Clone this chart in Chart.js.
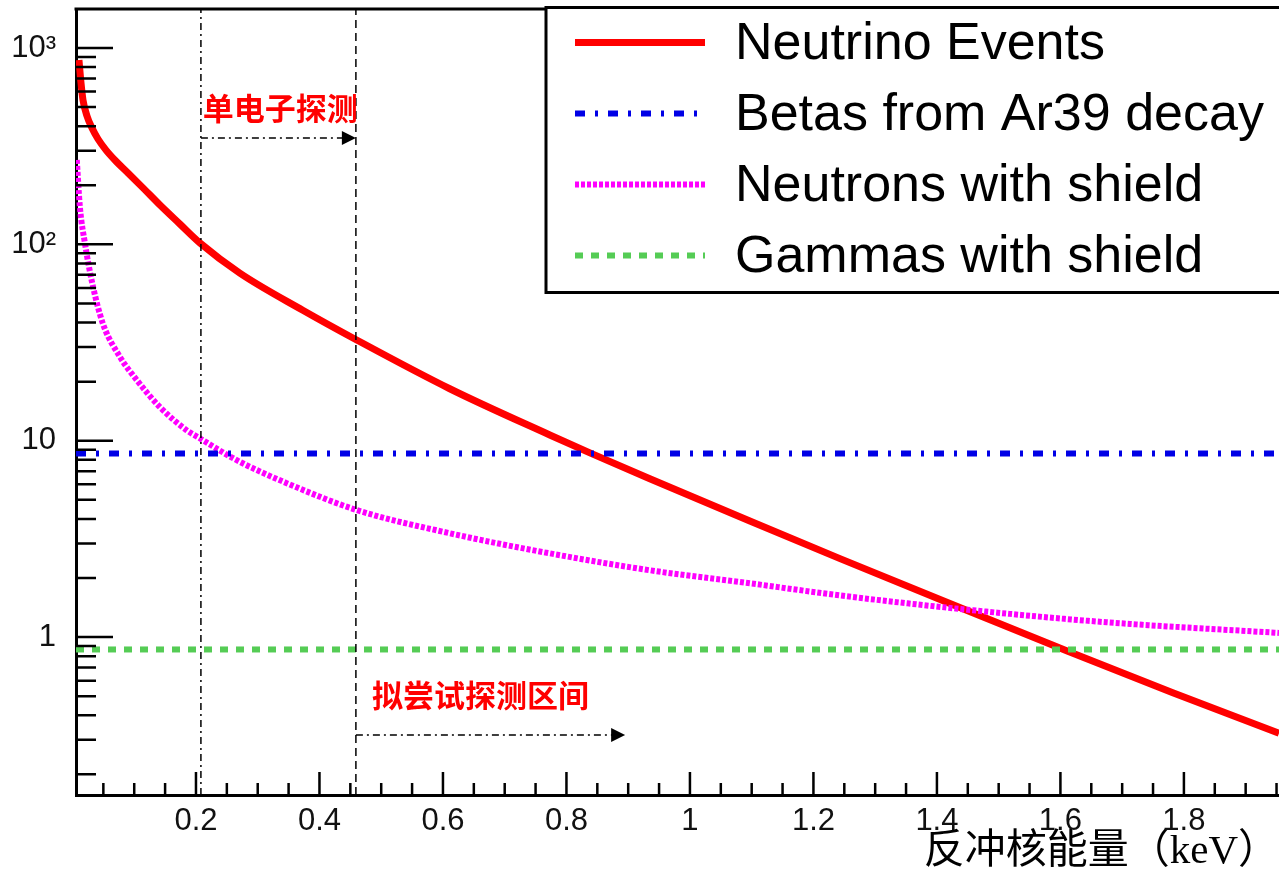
<!DOCTYPE html>
<html>
<head>
<meta charset="utf-8">
<title>Recoil spectrum</title>
<script src="https://cdn.jsdelivr.net/npm/chart.js"></script>
<style>
  html, body { margin: 0; padding: 0; background: #fff; }
  canvas { display: block; }
</style>
</head>
<body>
<canvas id="myChart" width="1279" height="877"></canvas>
<script>
// axis ranges (keV on x, events on a log y axis)
var xMin = 0.0057, xMax = 1.954;
var yMin = 0.157, yMax = 1580;

// tick values and their labels
var xTicks = [0.2, 0.4, 0.6, 0.8, 1.0, 1.2, 1.4, 1.6, 1.8];
var xLabels = ['0.2', '0.4', '0.6', '0.8', '1', '1.2', '1.4', '1.6', '1.8'];
var yTicks = [1, 10, 100, 1000];
var yLabels = ['1', '10', '10\u00b2', '10\u00b3'];
var xTitle = '反冲核能量（keV）';

// neutrino events
var neutrinoX = [0.0105, 0.0138, 0.017, 0.0235, 0.0316, 0.0413, 0.0543, 0.0705, 0.0899, 0.1142, 0.1417, 0.1741, 0.2065, 0.271, 0.373, 0.461, 0.611, 0.773, 0.838, 0.935, 1.097, 1.243, 1.426, 1.611, 1.782, 1.954];
var neutrinoY = [869, 664, 544, 451, 391, 344, 302, 265, 231, 194, 158.6, 126.8, 101.6, 71.4, 46.2, 32.5, 18.4, 10.7, 8.67, 6.40, 3.90, 2.51, 1.46, 0.85, 0.521, 0.324];

// neutrons with shield
var neutronX = [0.007, 0.012, 0.020, 0.032, 0.049, 0.077, 0.104, 0.142, 0.185, 0.206, 0.266, 0.347, 0.461, 0.611, 0.773, 0.935, 1.097, 1.243, 1.458, 1.675, 1.954];
var neutronY = [269, 155, 102, 63.5, 39.7, 26.7, 20.4, 14.8, 11.3, 10.3, 7.96, 6.08, 4.43, 3.38, 2.67, 2.19, 1.88, 1.63, 1.37, 1.19, 1.05];

// flat backgrounds
var flatX = [xMin, xMax];
var betaY = [8.6, 8.6];
var gammaY = [0.865, 0.865];

// threshold markers and notes
var markerX = [0.208, 0.459];
var noteText = ['单电子探测', '拟尝试探测区间'];
var noteX = [0.211, 0.485];
var noteY = [494, 0.506];
var arrowFrom = [0.208, 0.459];
var arrowTo = [0.459, 0.895];
var arrowY = [348, 0.317];

function pairs(xs, ys) {
    return xs.map(function (x, i) { return { x: x, y: ys[i] }; });
}

var sansFont = "'Liberation Sans', Arial, sans-serif";

// ROOT style frame: inward ticks and top edge
var frameTicks = {
    id: 'frameTicks',
    afterDraw: function (chart) {
        var c = chart.ctx, a = chart.chartArea;
        var xs = chart.scales.x, ys = chart.scales.y;
        c.save();
        c.strokeStyle = '#000';
        c.lineWidth = 3;
        c.beginPath();
        c.moveTo(a.left - 1.5, a.top);
        c.lineTo(a.right + 2, a.top);
        c.stroke();

        c.lineWidth = 2.5;
        c.beginPath();
        for (var i = 1; i * 0.05 < xMax; i++) {
            var px = xs.getPixelForValue(i * 0.05);
            var len = (i % 4 === 0) ? 23 : 12;
            c.moveTo(px, a.bottom);
            c.lineTo(px, a.bottom - len);
        }
        for (var k = -1; k <= 3; k++) {
            for (var m = 1; m <= 9; m++) {
                var val = m * Math.pow(10, k);
                if (val < yMin || val > yMax) continue;
                var py = ys.getPixelForValue(val);
                c.moveTo(a.left, py);
                c.lineTo(a.left + (m === 1 ? 37 : 20), py);
            }
        }
        c.stroke();
        c.restore();
    }
};

// boxed legend in the upper right corner
var boxLegend = {
    id: 'boxLegend',
    afterDraw: function (chart) {
        var c = chart.ctx, a = chart.chartArea;
        var left = 546, top = a.top - 1.5, rowH = 71;
        var rows = chart.data.datasets.filter(function (d) { return !d.hideFromLegend; });
        var w = chart.width - left + 10, h = rowH * rows.length + 1;
        c.save();
        c.fillStyle = '#fff';
        c.fillRect(left, top, w, h);
        c.strokeStyle = '#000';
        c.lineWidth = 3;
        c.strokeRect(left, top, w, h);
        c.font = '52px ' + sansFont;
        c.textBaseline = 'middle';
        rows.forEach(function (d, i) {
            var cy = top + 35 + i * rowH;
            c.save();
            c.strokeStyle = d.borderColor;
            c.lineWidth = d.borderWidth;
            c.setLineDash(d.borderDash || []);
            c.beginPath();
            c.moveTo(575, cy);
            c.lineTo(705, cy);
            c.stroke();
            c.restore();
            c.fillStyle = '#000';
            c.fillText(d.label, 735, cy + 2);
        });
        c.restore();
    }
};

// red notes with dash-dot arrows
var notes = {
    id: 'notes',
    afterDraw: function (chart) {
        var c = chart.ctx;
        var xs = chart.scales.x, ys = chart.scales.y;
        c.save();
        c.font = "bold 31px 'Noto Sans CJK SC', sans-serif";
        c.fillStyle = '#ff0000';
        c.textBaseline = 'middle';
        noteText.forEach(function (t, i) {
            c.fillText(t, xs.getPixelForValue(noteX[i]), ys.getPixelForValue(noteY[i]));
        });
        c.strokeStyle = '#000';
        c.fillStyle = '#000';
        c.lineWidth = 1.5;
        arrowFrom.forEach(function (x0, i) {
            var p0 = xs.getPixelForValue(x0);
            var p1 = xs.getPixelForValue(arrowTo[i]);
            var py = ys.getPixelForValue(arrowY[i]);
            c.setLineDash([7, 4, 2, 4]);
            c.beginPath();
            c.moveTo(p0, py);
            c.lineTo(p1 - 12, py);
            c.stroke();
            c.setLineDash([]);
            c.beginPath();
            c.moveTo(p1, py);
            c.lineTo(p1 - 14, py - 7);
            c.lineTo(p1 - 14, py + 7);
            c.closePath();
            c.fill();
        });
        c.restore();
    }
};

var ctx = document.getElementById('myChart').getContext('2d');

var myChart = new Chart(ctx, {
    type: 'line',
    data: {
        datasets: [{
            label: 'Neutrino Events',
            data: pairs(neutrinoX, neutrinoY),
            borderColor: '#ff0000',
            borderWidth: 7,
            cubicInterpolationMode: 'monotone',
            order: 2
        }, {
            label: 'Betas from Ar39 decay',
            data: pairs(flatX, betaY),
            borderColor: '#0000e6',
            borderWidth: 6,
            borderDash: [10, 10, 3, 10],
            order: 1
        }, {
            label: 'Neutrons with shield',
            data: pairs(neutronX, neutronY),
            borderColor: '#ff00ff',
            borderWidth: 6,
            borderDash: [4, 2],
            cubicInterpolationMode: 'monotone',
            order: 1
        }, {
            label: 'Gammas with shield',
            data: pairs(flatX, gammaY),
            borderColor: '#55cc55',
            borderWidth: 6,
            borderDash: [8, 8],
            order: 1
        }, {
            label: 'single electron threshold',
            data: pairs([markerX[0], markerX[0]], [yMin, yMax]),
            borderColor: '#000',
            borderWidth: 1.5,
            borderDash: [7, 4, 2, 4],
            hideFromLegend: true,
            order: 0
        }, {
            label: 'trial threshold',
            data: pairs([markerX[1], markerX[1]], [yMin, yMax]),
            borderColor: '#000',
            borderWidth: 1.5,
            borderDash: [8, 5],
            hideFromLegend: true,
            order: 0
        }]
    },
    options: {
        responsive: false,
        animation: false,
        devicePixelRatio: 1,
        events: [],
        layout: { padding: { top: 9, right: 0, bottom: 0, left: 0 } },
        elements: {
            point: { radius: 0 },
            line: { fill: false, borderCapStyle: 'butt' }
        },
        plugins: {
            legend: { display: false },
            tooltip: { enabled: false }
        },
        scales: {
            x: {
                type: 'linear',
                min: xMin,
                max: xMax,
                afterBuildTicks: function (s) { s.ticks = xTicks.map(function (v) { return { value: v }; }); },
                afterFit: function (s) { s.height = 82; s.paddingLeft = 0; s.paddingRight = 0; },
                grid: { display: false },
                border: { display: true, color: '#000', width: 3 },
                ticks: {
                    padding: 0,
                    color: '#111',
                    maxRotation: 0,
                    autoSkip: false,
                    font: { family: sansFont, size: 31 },
                    callback: function (value, index) { return xLabels[index]; }
                },
                title: {
                    display: true,
                    text: xTitle,
                    align: 'end',
                    color: '#000',
                    font: { family: "'Liberation Serif', 'Noto Sans CJK SC', serif", size: 41 },
                    padding: { top: 0, bottom: 0 }
                }
            },
            y: {
                type: 'logarithmic',
                min: yMin,
                max: yMax,
                afterBuildTicks: function (s) { s.ticks = yTicks.map(function (v) { return { value: v }; }); },
                afterFit: function (s) { s.width = 76; s.paddingTop = 0; s.paddingBottom = 0; },
                grid: { display: false },
                border: { display: true, color: '#000', width: 3 },
                ticks: {
                    padding: 12,
                    color: '#111',
                    font: { family: sansFont, size: 31 },
                    callback: function (value, index) { return yLabels[index]; }
                }
            }
        }
    },
    plugins: [frameTicks, boxLegend, notes]
});
</script>
</body>
</html>
